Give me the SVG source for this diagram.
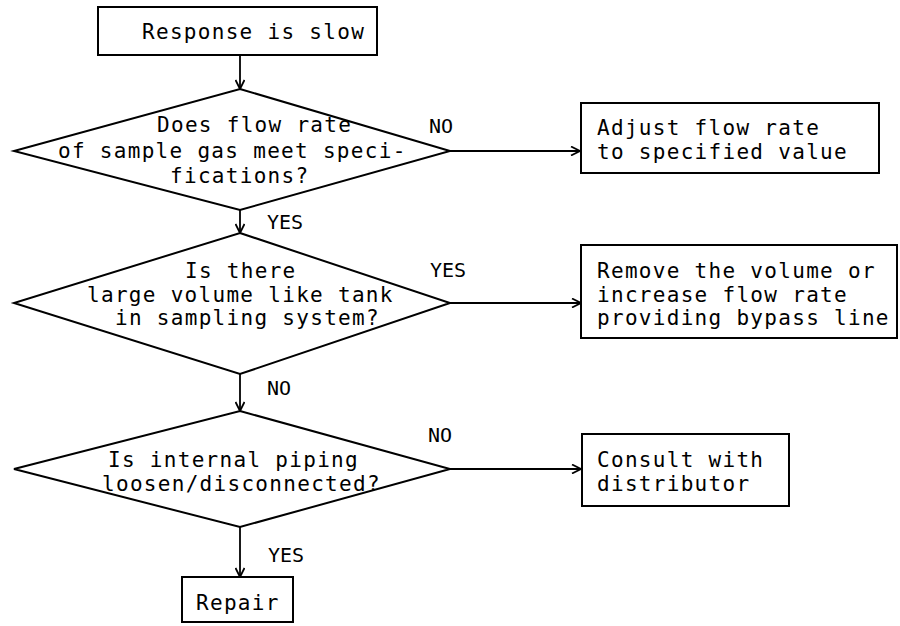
<svg xmlns="http://www.w3.org/2000/svg" width="900" height="626" viewBox="0 0 900 626">
<defs>
<style>
.box{fill:#fff;stroke:#000;stroke-width:2}
.dia{fill:#fff;stroke:#000;stroke-width:2}
.t{font-family:"DejaVu Sans Mono","Liberation Mono",monospace;font-size:21px;letter-spacing:1.3px;fill:#000}
.lb{font-family:"DejaVu Sans Mono","Liberation Mono",monospace;font-size:20px;fill:#000}
.c{stroke:#000;stroke-width:1.8;fill:none}
</style>
<marker id="ah" viewBox="0 0 10 10" refX="10" refY="5" markerWidth="10" markerHeight="10" markerUnits="userSpaceOnUse" orient="auto">
<polyline points="1,0.5 10,5 1,9.5" fill="none" stroke="#000" stroke-width="1.8"/>
</marker>
</defs>
<rect width="900" height="626" fill="#fff"/>
<g id="connectors">
<line class="c" x1="240" y1="55" x2="240" y2="89" marker-end="url(#ah)"/>
<line class="c" x1="450" y1="151" x2="580" y2="151" marker-end="url(#ah)"/>
<line class="c" x1="240" y1="210" x2="240" y2="233" marker-end="url(#ah)"/>
<line class="c" x1="450" y1="303" x2="581" y2="303" marker-end="url(#ah)"/>
<line class="c" x1="240" y1="374" x2="240" y2="411" marker-end="url(#ah)"/>
<line class="c" x1="450" y1="469" x2="581" y2="469" marker-end="url(#ah)"/>
<line class="c" x1="240" y1="527" x2="240" y2="577" marker-end="url(#ah)"/>
<text class="lb" x="429" y="133">NO</text>
<text class="lb" x="267" y="229">YES</text>
<text class="lb" x="430" y="277">YES</text>
<text class="lb" x="267" y="395">NO</text>
<text class="lb" x="428" y="442">NO</text>
<text class="lb" x="268" y="562">YES</text>
</g>
<g id="start">
<rect class="box" x="98" y="7" width="279" height="48"/>
<text class="t" x="142" y="39">Response is slow</text>
</g>
<g id="q1">
<polygon class="dia" points="240,89 450,151 240,210 14,151"/>
<text class="t" x="157" y="132">Does flow rate</text>
<text class="t" x="58" y="158">of sample gas meet speci-</text>
<text class="t" x="170" y="183">fications?</text>
</g>
<g id="adjust">
<rect class="box" x="581" y="103" width="298" height="70"/>
<text class="t" x="597" y="135">Adjust flow rate</text>
<text class="t" x="597" y="159">to specified value</text>
</g>
<g id="q2">
<polygon class="dia" points="240,233 450,303 240,374 14,303"/>
<text class="t" x="185" y="278">Is there</text>
<text class="t" x="87" y="302">large volume like tank</text>
<text class="t" x="115" y="325">in sampling system?</text>
</g>
<g id="remove">
<rect class="box" x="581" y="245" width="316" height="93"/>
<text class="t" x="597" y="278">Remove the volume or</text>
<text class="t" x="597" y="302">increase flow rate</text>
<text class="t" x="597" y="325">providing bypass line</text>
</g>
<g id="q3">
<polygon class="dia" points="240,411 450,469 240,527 14,469"/>
<text class="t" x="108" y="467">Is internal piping</text>
<text class="t" x="102" y="491">loosen/disconnected?</text>
</g>
<g id="consult">
<rect class="box" x="582" y="434" width="207" height="72"/>
<text class="t" x="597" y="467">Consult with</text>
<text class="t" x="597" y="491">distributor</text>
</g>
<g id="repair">
<rect class="box" x="182" y="577" width="111" height="45"/>
<text class="t" x="196" y="610">Repair</text>
</g>
</svg>
